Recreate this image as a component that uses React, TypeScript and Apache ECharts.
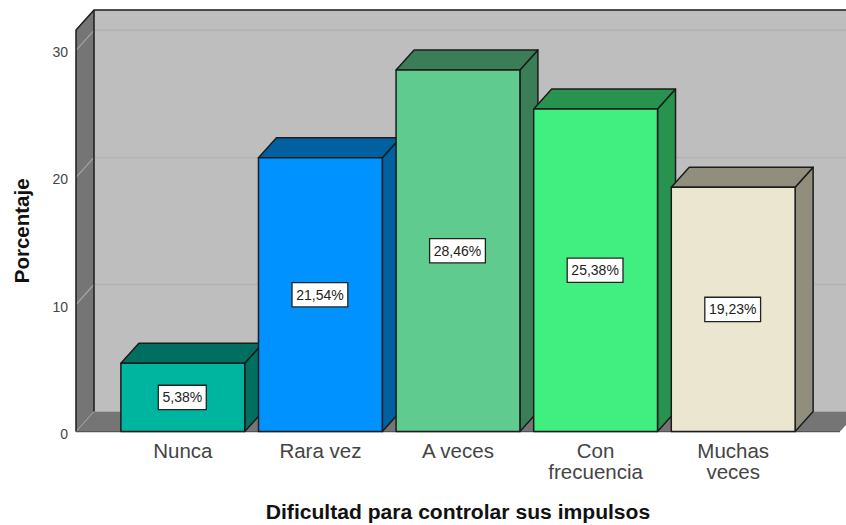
import React, { useEffect, useRef } from "react";
import * as echarts from "echarts";

const categories = ["Nunca", "Rara vez", "A veces", "Con\nfrecuencia", "Muchas\nveces"];
const percentages = [5.38, 21.54, 28.46, 25.38, 19.23];
const frontColors = ["#00B5A0", "#0093FF", "#5FCB8E", "#41EE80", "#EBE6D0"];
const sideColors = ["#006F60", "#0060A0", "#3A7D56", "#27934F", "#928E7E"];
const gridValues = [10, 20, 30];
const yMax = 31.6;
const DX = 18;
const DY = -20;
const SANS = '"Liberation Sans", Arial, sans-serif';
const EDGE = "#1c1c1c";

function renderWalls(params: any, api: any) {
  const c = params.coordSys;
  const x0 = c.x - 38;
  const x1 = c.x + c.width + 38;
  const yBase = api.coord([0, 0])[1];
  const yTop = api.coord([0, yMax])[1];
  const children: any[] = [
    { type: "rect", shape: { x: x0 + DX, y: yTop + DY, width: x1 - x0, height: yBase - yTop }, style: { fill: "#BEBEBE", stroke: "none" } },
    { type: "polygon", shape: { points: [[x0, yBase], [x0 + DX, yBase + DY], [x0 + DX, yTop + DY], [x0, yTop]] }, style: { fill: "#757575", stroke: "none" } },
    { type: "polygon", shape: { points: [[x0, yBase], [x0 + DX, yBase + DY], [x1 + DX, yBase + DY], [x1, yBase]] }, style: { fill: "#757575", stroke: "none" } },
  ];
  gridValues.forEach((v) => {
    const y = api.coord([0, v])[1];
    children.push(
      { type: "line", shape: { x1: x0 + DX, y1: y + DY, x2: x1 + DX, y2: y + DY }, style: { stroke: "#B2B2B2", lineWidth: 1.5 } },
      { type: "line", shape: { x1: x0, y1: y, x2: x0 + DX, y2: y + DY }, style: { stroke: "#A4A4A4", lineWidth: 1.2 } },
    );
  });
  children.push(
    { type: "line", shape: { x1: x0, y1: yBase, x2: x0 + DX, y2: yBase + DY }, style: { stroke: "#A4A4A4", lineWidth: 1 } },
    { type: "polyline", shape: { points: [[x0, yBase], [x0, yTop], [x0 + DX, yTop + DY], [x1 + DX, yTop + DY]] }, style: { stroke: EDGE, lineWidth: 1.5, fill: "none" } },
    { type: "line", shape: { x1: x0 + DX, y1: yTop + DY, x2: x0 + DX, y2: yBase + DY }, style: { stroke: EDGE, lineWidth: 1.5 } },
    { type: "line", shape: { x1: x0, y1: yBase, x2: x1, y2: yBase }, style: { stroke: "#555555", lineWidth: 1.2 } },
  );
  return { type: "group", children };
}

function renderBar(params: any, api: any) {
  const i = api.value(0);
  const v = api.value(1);
  const [cx, yTop] = api.coord([i, v]);
  const yBase = api.coord([i, 0])[1];
  const w = api.size([1, 0])[0] * 0.9;
  const l = cx - w / 2;
  const r = cx + w / 2;
  const line = { stroke: EDGE, lineWidth: 1.5, lineJoin: "round" };
  const text = v.toFixed(2).replace(".", ",") + "%";
  return {
    type: "group",
    children: [
      { type: "polygon", shape: { points: [[r, yBase], [r + DX, yBase + DY], [r + DX, yTop + DY], [r, yTop]] }, style: { fill: sideColors[i], ...line } },
      { type: "polygon", shape: { points: [[l, yTop], [l + DX, yTop + DY], [r + DX, yTop + DY], [r, yTop]] }, style: { fill: sideColors[i], ...line } },
      { type: "rect", shape: { x: l, y: yTop, width: w, height: yBase - yTop }, style: { fill: frontColors[i], ...line } },
      {
        type: "text",
        x: cx - 0.5,
        y: (yTop + yBase) / 2,
        style: {
          text,
          align: "center",
          verticalAlign: "middle",
          font: `14px ${SANS}`,
          fill: "#222222",
          backgroundColor: "#FFFFFF",
          borderColor: "#222222",
          borderWidth: 1.3,
          padding: [5, 3.5, 4, 3.5],
        },
      },
    ],
  };
}

export default function App() {
  const ref = useRef<HTMLDivElement>(null);
  useEffect(() => {
    const chart = echarts.init(ref.current!, undefined, { renderer: "svg" });
    chart.setOption({
      animation: false,
      backgroundColor: "#FFFFFF",
      grid: { left: 114, width: 688, top: 30, height: 401.6, outerBoundsMode: "none" },
      xAxis: {
        type: "category",
        data: categories,
        axisLine: { show: false },
        axisTick: { show: false },
        splitLine: { show: false },
        axisLabel: { margin: 8, fontFamily: SANS, fontSize: 20.5, lineHeight: 21, color: "#444444", interval: 0 },
        name: "Dificultad para controlar sus impulsos",
        nameLocation: "middle",
        nameGap: 69,
        nameTextStyle: { fontFamily: SANS, fontSize: 21.1, fontWeight: "bold", color: "#111111" },
      },
      yAxis: {
        type: "value",
        min: 0,
        max: yMax,
        interval: 10,
        axisLine: { show: false },
        axisTick: { show: false },
        splitLine: { show: false },
        axisLabel: {
          margin: 46,
          showMaxLabel: false,
          showMinLabel: true,
          formatter: "{t|{value}}",
          rich: { t: { fontFamily: SANS, fontSize: 14, color: "#444444", lineHeight: 14, padding: [4, 0, 0, 0] } },
        },
        name: "Porcentaje",
        nameLocation: "middle",
        nameGap: 82,
        nameTextStyle: { fontFamily: SANS, fontSize: 20.5, fontWeight: "bold", color: "#111111" },
      },
      series: [
        { type: "custom", silent: true, z: 1, clip: false, renderItem: renderWalls, data: [[0, 0]], encode: { x: 0, y: 1 } },
        {
          type: "custom",
          silent: true,
          z: 2,
          clip: false,
          renderItem: renderBar,
          data: percentages.map((v, i) => [i, v]),
          encode: { x: 0, y: 1 },
        },
      ],
    });
    return () => chart.dispose();
  }, []);
  return <div ref={ref} style={{ position: "fixed", left: 0, top: 0, width: 846, height: 525 }} />;
}
